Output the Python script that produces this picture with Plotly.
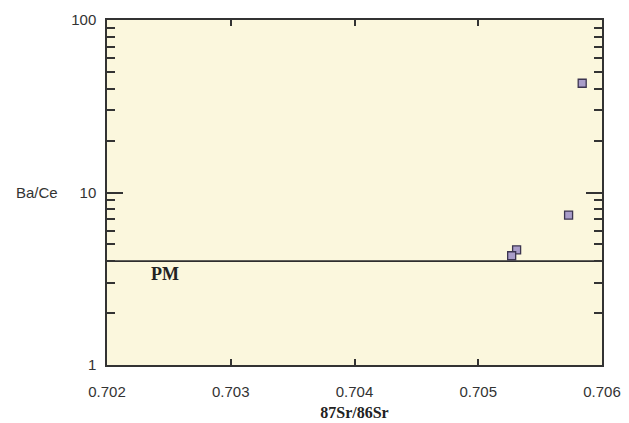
import plotly.graph_objects as go

sr_ratio = [0.70584, 0.70573, 0.70531, 0.70527]
ba_ce = [43.0, 7.4, 4.65, 4.3]
pm_x = [0.702, 0.706]
pm_y = [4.0, 4.0]
x_ticks = [0.702, 0.703, 0.704, 0.705, 0.706]
x_tick_labels = ["0.702", "0.703", "0.704", "0.705", "0.706"]
y_ticks = [1, 10, 100]
y_tick_labels = ["1", "10", "100"]

fig = go.Figure()
fig.add_trace(go.Scatter(x=pm_x, y=pm_y, mode="lines",
                         line=dict(color="#2e2e2e", width=1.7), showlegend=False))
fig.add_trace(go.Scatter(x=sr_ratio, y=ba_ce, mode="markers",
                         marker=dict(symbol="square", size=8, color="#a99dc9",
                                     line=dict(color="#3c3550", width=1.3)),
                         showlegend=False))

fig.add_annotation(x=0.70247, y=0.525, yref="y", text="<b>PM</b>", showarrow=False,
                   font=dict(family="Liberation Serif", size=18, color="#222"))
fig.add_annotation(x=-0.142, xref="paper", y=1, yref="y", text="Ba/Ce", showarrow=False,
                   xanchor="center",
                   font=dict(family="Liberation Sans", size=15, color="#333"))

fig.update_xaxes(range=[0.702, 0.706], tickvals=x_ticks, ticktext=x_tick_labels,
                 ticks="inside", ticklen=6, tickwidth=1.5, tickcolor="#333",
                 showline=True, linecolor="#333", linewidth=1.5, mirror="allticks",
                 showgrid=False, zeroline=False, ticklabelstandoff=12, automargin=False,
                 tickfont=dict(family="Liberation Sans", size=15, color="#333"),
                 title=dict(text="<b>87Sr/86Sr</b>", standoff=8,
                            font=dict(family="Liberation Serif", size=16, color="#222")))
fig.update_yaxes(type="log", range=[0, 2], tickvals=y_ticks, ticktext=y_tick_labels,
                 ticks="inside", ticklen=16, tickwidth=1.5, tickcolor="#333",
                 minor=dict(ticks="inside", ticklen=8, tickwidth=1.5, tickcolor="#333",
                            dtick="D1", showgrid=False),
                 showline=True, linecolor="#333", linewidth=1.5, mirror="allticks",
                 showgrid=False, zeroline=False, ticklabelstandoff=6, automargin=False,
                 tickfont=dict(family="Liberation Sans", size=15, color="#333"))

fig.update_layout(width=621, height=415, margin=dict(l=99, r=27, t=12, b=58, autoexpand=False),
                  paper_bgcolor="white", plot_bgcolor="#fbf7dd")
fig.write_html("out.html")
